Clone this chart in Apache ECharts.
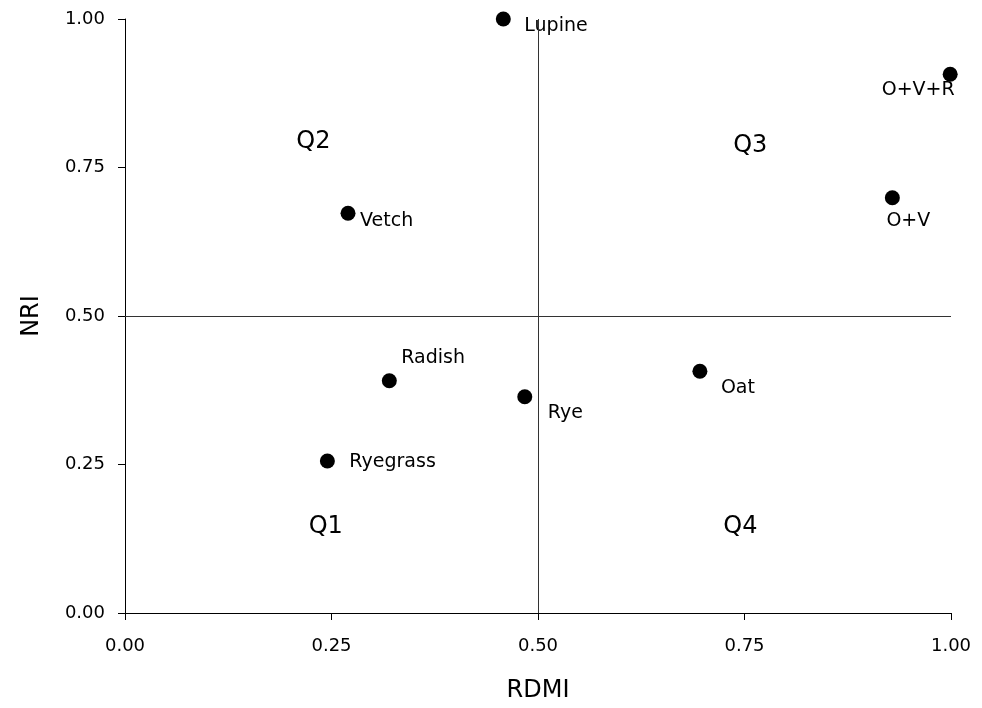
<!DOCTYPE html>
<html>
<head>
<meta charset="utf-8">
<script src="https://cdn.jsdelivr.net/npm/echarts@6/dist/echarts.min.js"></script>
<style>
  html, body { margin: 0; padding: 0; background: #fff; }
  #chart { width: 982px; height: 708px; }
</style>
</head>
<body>
<div id="chart"></div>
<script>
// cover crops: RDMI vs NRI
const crops = ['Lupine', 'O+V+R', 'O+V', 'Vetch', 'Radish', 'Rye', 'Oat', 'Ryegrass']
const rdmi = [0.458, 0.999, 0.929, 0.270, 0.320, 0.484, 0.696, 0.245]
const nri = [1.000, 0.907, 0.699, 0.673, 0.391, 0.364, 0.407, 0.256]

const quadrants = ['Q1', 'Q2', 'Q3', 'Q4']
const quadX = [0.243, 0.228, 0.757, 0.745]
const quadY = [0.146, 0.793, 0.786, 0.146]

// label placement for each crop (pixel offsets from the dot)
const labelStyle = {
    'Lupine': { align: 'left', offset: [21, 7] },
    'O+V+R': { align: 'center', offset: [-32, 16] },
    'O+V': { align: 'center', offset: [16, 23] },
    'Vetch': { align: 'left', offset: [12, 8] },
    'Radish': { align: 'left', offset: [12, -23] },
    'Rye': { align: 'left', offset: [23, 16] },
    'Oat': { align: 'left', offset: [21, 17] },
    'Ryegrass': { align: 'left', offset: [22, 1] }
}

const font = 'DejaVu Sans'

let chart = echarts.init(document.querySelector('#chart'))

let pointData = crops.map(function (name, i) {
    let s = labelStyle[name]
    return {
        name: name,
        value: [rdmi[i], nri[i]],
        label: {
            show: true,
            position: 'inside',
            align: s.align,
            verticalAlign: 'middle',
            offset: s.offset,
            formatter: name
        }
    }
})

let quadData = quadrants.map(function (q, i) {
    return { name: q, value: [quadX[i], quadY[i]] }
})

let axisCommon = {
    type: 'value',
    min: 0,
    max: 1,
    interval: 0.25,
    splitLine: { show: false },
    axisLine: { show: true, lineStyle: { color: '#000', width: 1 } },
    axisTick: { show: true, length: 7, lineStyle: { color: '#000' } },
    axisLabel: {
        color: '#000',
        fontFamily: font,
        fontSize: 18,
        formatter: function (v) { return v.toFixed(2) }
    },
    nameTextStyle: { color: '#000', fontFamily: font, fontSize: 24 }
}

let option = {
    backgroundColor: '#fff',
    animation: false,
    grid: { left: 125, right: 31, top: 19, bottom: 95, outerBoundsMode: 'none', containLabel: false },
    xAxis: Object.assign({}, axisCommon, {
        name: 'RDMI',
        nameLocation: 'middle',
        nameGap: 66,
        axisLabel: Object.assign({}, axisCommon.axisLabel, { margin: 24 })
    }),
    yAxis: Object.assign({}, axisCommon, {
        name: 'NRI',
        nameLocation: 'middle',
        nameGap: 81,
        axisLabel: Object.assign({}, axisCommon.axisLabel, { margin: 20 })
    }),
    series: [
        {
            type: 'scatter',
            clip: false,
            symbolSize: 15,
            itemStyle: { color: '#000', opacity: 1 },
            label: { color: '#000', fontFamily: font, fontSize: 19 },
            emphasis: { disabled: true },
            data: pointData,
            markLine: {
                silent: true,
                symbol: 'none',
                label: { show: false },
                lineStyle: { color: '#333', width: 1, type: 'solid', opacity: 1 },
                data: [{ xAxis: 0.5 }, { yAxis: 0.5 }]
            }
        },
        {
            type: 'scatter',
            clip: false,
            symbolSize: 0,
            itemStyle: { opacity: 1 },
            label: {
                show: true,
                position: 'inside',
                formatter: '{b}',
                color: '#000',
                fontFamily: font,
                fontSize: 24
            },
            data: quadData
        }
    ]
}

chart.setOption(option)
</script>
</body>
</html>
